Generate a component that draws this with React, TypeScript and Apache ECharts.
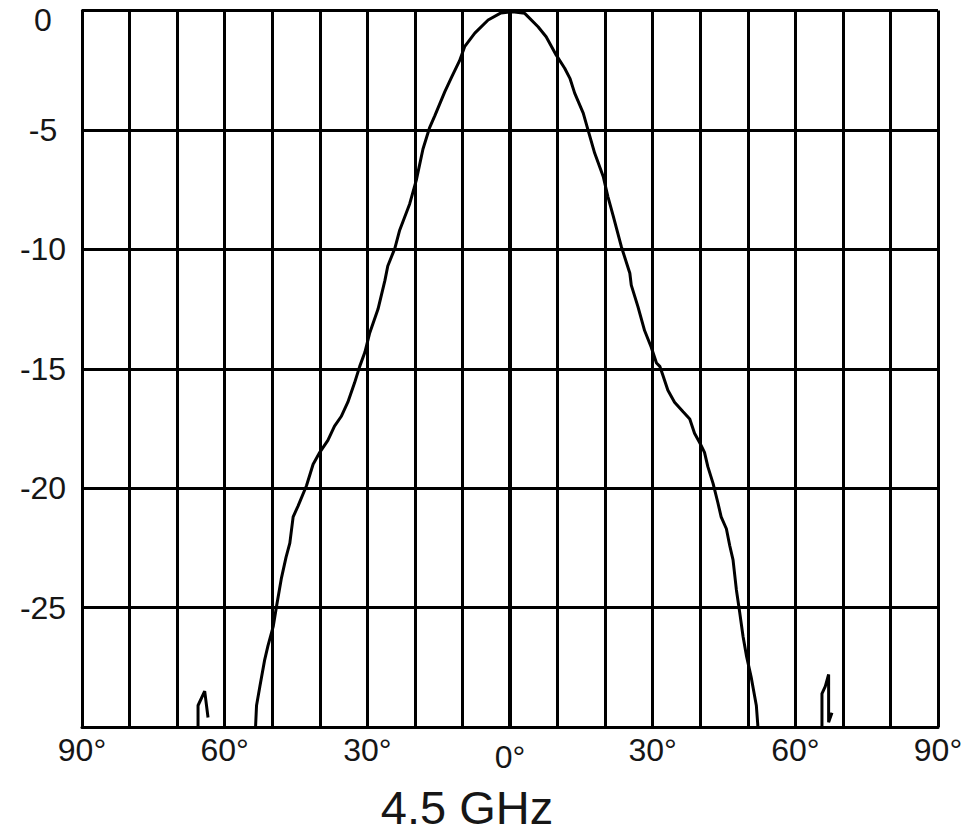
import React, { useEffect, useRef } from "react";
import * as echarts from "echarts";

// Tick settings
const xTickStep = 10;
const xLabelStep = 30;
const yTickStep = 5;
const xMin = -90;
const xMax = 90;
const yMin = -30;
const yMax = 0;

const chartTitle = "4.5 GHz";

// Main lobe (angle in degrees, relative gain in dB)
const mainAngles = [
  -54.0, -53.5, -53.3, -52.6, -51.6, -50.9, -49.8, -49.1, -48.1, -47.1, -46.3, -45.6, -44.6,
  -42.8, -41.4, -40.0, -38.3, -36.9, -35.5, -34.1, -32.7, -31.6, -30.5, -29.5, -27.75,
  -26.3, -25.7, -24.2, -23.2, -21.1, -19.7, -18.3, -16.9, -15.8, -13.7, -12.3, -10.6,
  -9.5, -7.4, -4.6, -1.9, 0.5, 3.1, 5.9, 7.6, 9.7, 11.5, 12.6, 13.6, 15.4, 16.4, 17.8,
  19.6, 20.6, 21.7, 23.4, 25.2, 25.5, 26.9, 28.3, 29.7, 30.8, 31.5, 32.2, 33.2, 34.6,
  36.4, 37.8, 38.8, 39.9, 40.9, 41.6, 42.7, 43.7, 44.4, 45.5, 46.2, 46.9, 47.6, 48.3,
  49.0, 49.7, 50.7, 51.8, 52.1, 52.3,
];
const mainGains = [
  -31.0, -29.97, -29.1, -28.3, -27.2, -26.6, -25.8, -24.95, -23.8, -22.9, -22.3, -21.2, -20.76,
  -19.9, -19.0, -18.5, -18.0, -17.4, -17.0, -16.4, -15.6, -14.9, -14.3, -13.5, -12.5,
  -11.3, -10.7, -9.95, -9.2, -8.1, -7.1, -5.8, -4.9, -4.4, -3.4, -2.8, -2.1,
  -1.5, -0.95, -0.4, -0.1, -0.05, -0.12, -0.68, -1.1, -1.86, -2.42, -2.84, -3.46, -4.3, -5.0, -5.97,
  -6.95, -7.8, -8.6, -9.88, -11.0, -11.5, -12.4, -13.4, -14.1, -14.76, -14.9, -15.3, -15.9, -16.4,
  -16.8, -17.1, -17.7, -18.1, -18.5, -19.1, -19.8, -20.6, -21.2, -21.7, -22.4, -23.0, -24.25, -25.2,
  -26.2, -27.0, -27.9, -29.1, -29.9, -31.0,
];

// Left side lobe fragment
const leftSpikeAngles = [-65.6, -65.6, -64.2, -63.5];
const leftSpikeGains = [-31.0, -29.1, -28.5, -29.6];

// Right side lobe fragment
const rightSpikeAngles = [65.6, 65.6, 66.3, 67.0, 67.0, 67.7];
const rightSpikeGains = [-31.0, -28.6, -28.3, -27.8, -29.8, -29.4];

const FONT = "'Liberation Sans', Arial, Helvetica, sans-serif";
const TEXT_COLOR = "#161616";

function pairs(xs: number[], ys: number[]) {
  return xs.map((x, i) => [x, ys[i]]);
}

export default function App() {
  const ref = useRef<HTMLDivElement>(null);

  useEffect(() => {
    document.body.style.margin = "0";
    if (!ref.current) return;
    const chart = echarts.init(ref.current, undefined, { renderer: "svg" });

    const gridLine = { show: true, lineStyle: { color: "#000", width: 3, type: "solid" as const } };
    const lineBase = {
      type: "line" as const,
      showSymbol: false,
      symbol: "none",
      clip: true,
      lineStyle: { color: "#000", width: 3 },
      silent: true,
      z: 5,
    };

    chart.setOption({
      animation: false,
      backgroundColor: "#fff",
      grid: { left: 82, right: 35, top: 10.5, bottom: 107, containLabel: false },
      xAxis: {
        type: "value",
        min: xMin,
        max: xMax,
        interval: xTickStep,
        axisLine: { show: true, onZero: false, lineStyle: { color: "#000", width: 3 } },
        axisTick: { show: false },
        splitLine: gridLine,
        axisLabel: {
          margin: 7,
          fontSize: 32,
          fontFamily: FONT,
          color: TEXT_COLOR,
          formatter: (v: number) => {
            if (Math.round(v) % xLabelStep !== 0) return "";
            if (v === 0) return "{z|0°}";
            return Math.abs(v) + "°";
          },
          rich: {
            z: { fontSize: 32, fontFamily: FONT, color: TEXT_COLOR, lineHeight: 46 },
          },
        },
      },
      yAxis: {
        type: "value",
        min: yMin,
        max: yMax,
        interval: yTickStep,
        axisLine: { show: true, onZero: false, lineStyle: { color: "#000", width: 3 } },
        axisTick: { show: false },
        splitLine: gridLine,
        axisLabel: {
          margin: 39,
          align: "center",
          fontSize: 32,
          fontFamily: FONT,
          color: TEXT_COLOR,
          formatter: (v: number) => {
            if (v === yMin) return "";
            if (v === 0) return "{t|0}";
            return String(v);
          },
          rich: {
            t: { fontSize: 32, fontFamily: FONT, color: TEXT_COLOR, padding: [18, 0, 0, 0] },
          },
        },
      },
      graphic: [
        {
          type: "text",
          x: 467,
          y: 807,
          style: {
            text: chartTitle,
            fontSize: 47,
            fontFamily: FONT,
            fill: TEXT_COLOR,
            align: "center",
            verticalAlign: "middle",
            textAlign: "center",
            textVerticalAlign: "middle",
          },
        },
      ],
      series: [
        {
          ...lineBase,
          name: "main",
          data: pairs(mainAngles, mainGains),
          markLine: {
            silent: true,
            symbol: "none",
            animation: false,
            label: { show: false },
            lineStyle: { color: "#000", width: 4, type: "solid" },
            data: [{ xAxis: 0 }],
          },
        },
        { ...lineBase, name: "left", data: pairs(leftSpikeAngles, leftSpikeGains) },
        { ...lineBase, name: "right", data: pairs(rightSpikeAngles, rightSpikeGains) },
      ],
    });

    return () => chart.dispose();
  }, []);

  return <div ref={ref} style={{ width: 973, height: 834 }} />;
}
